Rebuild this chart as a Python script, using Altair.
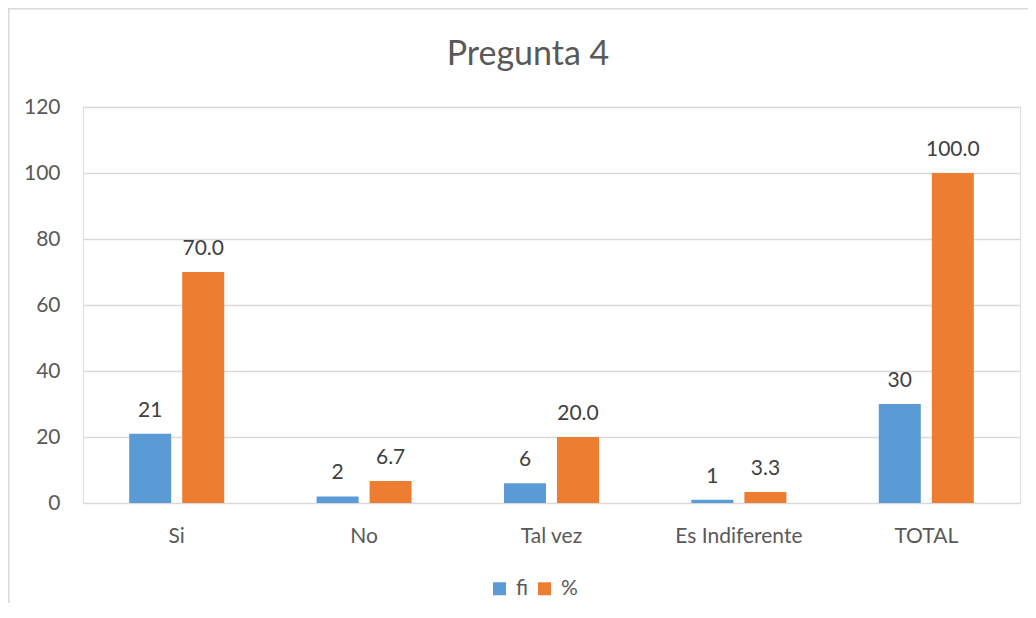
import altair as alt
import pandas as pd

categories = ["Si", "No", "Tal vez", "Es Indiferente", "TOTAL"]
fi_values = [21, 2, 6, 1, 30]
pct_values = [70.0, 6.7, 20.0, 3.3, 100.0]
series_names = ["fi", "%"]
series_colors = ["#5B9BD5", "#ED7D31"]
y_ticks = [0, 20, 40, 60, 80, 100, 120]

rows = []
for c, f, p in zip(categories, fi_values, pct_values):
    rows.append({"cat": c, "serie": "fi", "val": f, "lbl": f"{f:d}"})
    rows.append({"cat": c, "serie": "%", "val": p, "lbl": f"{p:.1f}"})
df = pd.DataFrame(rows)

FONT = "Lato"
W, H = 937, 396

x = alt.X("cat:N", sort=categories, title=None,
          scale=alt.Scale(paddingInner=0.493, paddingOuter=0.2465),
          axis=alt.Axis(labelAngle=0, domain=False, ticks=False, tickSize=0,
                        labelPadding=22, labelFontSize=21, labelColor="#595959",
                        labelFont=FONT, labelBaseline="top"))
xo = alt.XOffset("serie:N", sort=series_names,
                 scale=alt.Scale(paddingInner=0.2075, paddingOuter=0))
y = alt.Y("val:Q", title=None,
          scale=alt.Scale(domain=[0, 120], nice=False),
          axis=alt.Axis(values=y_ticks, domain=False, ticks=False, tickSize=0,
                        labelPadding=23, labelFontSize=21, labelColor="#595959",
                        labelFont=FONT, gridColor="#D9D9D9", gridWidth=1.3))
color = alt.Color("serie:N", sort=series_names,
                  scale=alt.Scale(domain=series_names, range=series_colors),
                  legend=alt.Legend(title=None, orient="none", direction="horizontal",
                                    legendX=406, legendY=471, symbolType="square",
                                    symbolSize=169, symbolStrokeWidth=0,
                                    labelFontSize=21, labelFont=FONT,
                                    labelColor="#595959", columnPadding=5,
                                    labelOffset=6, padding=0))

base = alt.Chart(df)
bars = base.mark_bar().encode(x=x, xOffset=xo, y=y, color=color)
labels = base.mark_text(baseline="alphabetic", dy=-17, fontSize=21, font=FONT,
                        color="#404040").encode(x=x, xOffset=xo, y=y, text="lbl:N")

one = alt.Data(values=[{"a": 1}])
title = alt.Chart(one).mark_text(text="Pregunta 4", fontSize=34, font=FONT,
                                 fontWeight=400, color="#595959",
                                 baseline="alphabetic", align="center").encode(
    x=alt.value(528 - 83), y=alt.value(65 - 107))
border_left = alt.Chart(one).mark_rule(color="#D9D9D9", strokeWidth=1.5).encode(
    x=alt.value(-74.25), x2=alt.value(-74.25), y=alt.value(-99), y2=alt.value(520))
border_top = alt.Chart(one).mark_rule(color="#D9D9D9", strokeWidth=1.5).encode(
    x=alt.value(-75), x2=alt.value(950), y=alt.value(-98.25), y2=alt.value(-98.25))

chart = alt.layer(bars, labels, title, border_left, border_top).properties(
    width=W, height=H,
    autosize=alt.AutoSizeParams(type="none"),
    padding={"left": 75, "top": 99, "right": 8, "bottom": 100},
).configure_view(stroke=None).configure(background="white")

chart.save("out.html", embed_options={"renderer": "svg", "actions": False})
